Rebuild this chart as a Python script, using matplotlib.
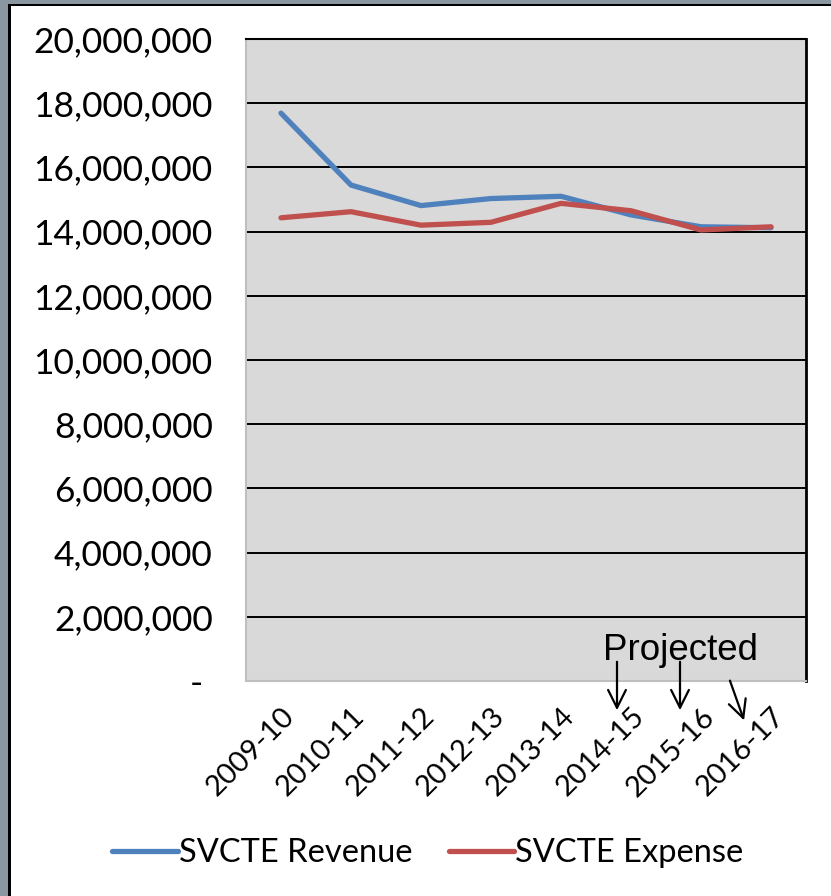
import matplotlib
matplotlib.use("Agg")
import matplotlib.pyplot as plt
from matplotlib.ticker import FuncFormatter, MultipleLocator
from matplotlib.patches import Rectangle, FancyArrowPatch

years = ["2009-10", "2010-11", "2011-12", "2012-13", "2013-14",
         "2014-15", "2015-16", "2016-17"]
revenue = [17690000, 15450000, 14810000, 15030000, 15100000,
           14520000, 14150000, 14120000]
expense = [14430000, 14620000, 14200000, 14290000, 14880000,
           14650000, 14050000, 14150000]

W, H = 831, 896
fig = plt.figure(figsize=(W / 100, H / 100), dpi=100)
fig.patch.set_facecolor("white")

# Window-style frame: grey strips with a black inner line on left and top
fig.patches.append(Rectangle((0, 0), 8 / W, 1, transform=fig.transFigure,
                             facecolor="#8a96a0", edgecolor="none", zorder=0))
fig.patches.append(Rectangle((0, 1 - 4 / H), 1, 4 / H, transform=fig.transFigure,
                             facecolor="#8a96a0", edgecolor="none", zorder=0))
fig.patches.append(Rectangle((8 / W, 0), 2.5 / W, 1 - 4 / H, transform=fig.transFigure,
                             facecolor="black", edgecolor="none", zorder=0))
fig.patches.append(Rectangle((8 / W, 1 - 6.5 / H), 1, 2.5 / H, transform=fig.transFigure,
                             facecolor="black", edgecolor="none", zorder=0))

left, right, bottom, top = 246 / W, 806 / W, 1 - 681 / H, 1 - 39 / H
ax = fig.add_axes([left, bottom, right - left, top - bottom])
ax.set_facecolor("#d9d9d9")

x = list(range(len(years)))
ax.plot(x, revenue, color="#4f81bd", lw=3.8, solid_capstyle="round",
        solid_joinstyle="round", label="SVCTE Revenue", zorder=3)
ax.plot(x, expense, color="#c0504d", lw=3.8, solid_capstyle="round",
        solid_joinstyle="round", label="SVCTE Expense", zorder=4)

ax.set_xlim(-0.5, len(years) - 0.5)
ax.set_ylim(0, 20000000)
ax.yaxis.set_major_locator(MultipleLocator(2000000))
ax.grid(axis="y", color="black", lw=1.4, zorder=1)
ax.set_axisbelow(True)

def fmt(v, pos):
    return "- " if v == 0 else f"{int(v):,}"

ax.yaxis.set_major_formatter(FuncFormatter(fmt))
ax.tick_params(axis="y", length=0, pad=24, labelsize=25.5)
for t in ax.get_yticklabels():
    t.set_fontfamily("Lato")

ax.set_xticks(x)
ax.set_xticklabels(years, rotation=45, ha="right", rotation_mode="anchor",
                   fontsize=21, fontfamily="Lato")
ax.tick_params(axis="x", length=0, pad=16)

for side in ("left", "bottom"):
    ax.spines[side].set_color("#bfbfbf")
    ax.spines[side].set_linewidth(1.5)
ax.spines["right"].set_color("black")
ax.spines["right"].set_linewidth(2)
ax.spines["top"].set_color("black")
ax.spines["top"].set_linewidth(1.5)

# "Projected" note with arrows pointing at the forecast years
fig.text(603 / W, 1 - 660 / H, "Projected", fontsize=26.5,
         fontfamily="Liberation Sans", ha="left", va="baseline")
arrows = [((617, 659), (617, 713)), ((680, 659), (680, 713)), ((729, 678), (745, 723))]
for (x0, y0), (x1, y1) in arrows:
    fig.add_artist(FancyArrowPatch(
        (x0 / W, 1 - y0 / H), (x1 / W, 1 - y1 / H), transform=fig.transFigure,
        arrowstyle="->,head_length=8,head_width=4", mutation_scale=1.6,
        color="black", lw=1.6))

leg = fig.legend(loc="center", bbox_to_anchor=(428 / W, 1 - 853 / H), ncol=2,
                 frameon=False, handlelength=2.0, handletextpad=0.05,
                 columnspacing=1.1, prop={"family": "Lato", "size": 23.5})

fig.savefig("out.png", dpi=100)
